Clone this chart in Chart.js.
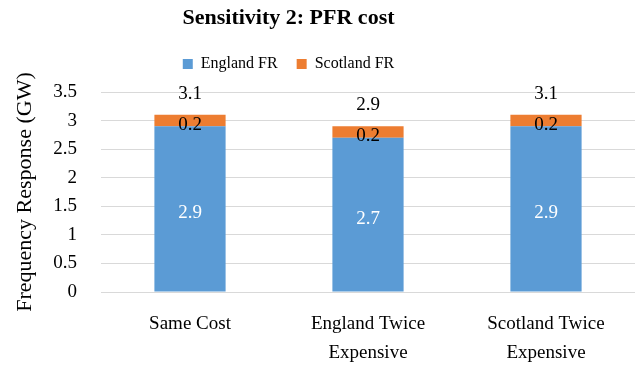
<!DOCTYPE html>
<html>
<head>
<meta charset="utf-8">
<script src="https://cdn.jsdelivr.net/npm/chart.js@4/dist/chart.umd.min.js"></script>
<style>
  html, body { margin: 0; padding: 0; background: #ffffff; }
  #wrap { width: 638px; height: 365px; }
</style>
</head>
<body>
<div id="wrap"><canvas id="chart" width="638" height="365"></canvas></div>
<script>
// Scenario names (multi-line where the axis label wraps)
const categories = [
  ['Same Cost'],
  ['England Twice', 'Expensive'],
  ['Scotland Twice', 'Expensive']
];
// Frequency response provided by each region, GW
const englandFR = [2.9, 2.7, 2.9];
const scotlandFR = [0.2, 0.2, 0.2];
// Stack totals shown above each bar
const totals = [3.1, 2.9, 3.1];

const SERIF = '"Liberation Serif", "Times New Roman", serif';

// Writes segment values inside the bars and the stack totals above them
const valueLabels = {
  id: 'valueLabels',
  afterDatasetsDraw(chart) {
    const ctx = chart.ctx;
    ctx.save();
    ctx.textAlign = 'center';
    ctx.textBaseline = 'middle';
    ctx.font = '19px ' + SERIF;
    chart.data.datasets.forEach((ds, di) => {
      const meta = chart.getDatasetMeta(di);
      meta.data.forEach((bar, i) => {
        const mid = (bar.y + bar.base) / 2;
        ctx.fillStyle = di === 0 ? '#ffffff' : '#000000';
        ctx.fillText(String(ds.data[i]), bar.x, mid + 4.5);
      });
    });
    const topMeta = chart.getDatasetMeta(chart.data.datasets.length - 1);
    const yScale = chart.scales.y;
    topMeta.data.forEach((bar, i) => {
      ctx.fillStyle = '#000000';
      ctx.fillText(String(totals[i]), bar.x, yScale.getPixelForValue(totals[i]) - 21);
    });
    ctx.restore();
  }
};

// Centres the heading and legend over the left part of the figure
const headingOffset = {
  id: 'headingOffset',
  afterLayout(chart) {
    const shift = 62;
    if (chart.titleBlock) chart.titleBlock.right -= shift;
    if (chart.legend) chart.legend.right -= shift;
  }
};

new Chart(document.getElementById('chart'), {
  type: 'bar',
  data: {
    labels: categories,
    datasets: [
      { label: 'England FR', data: englandFR, backgroundColor: '#5B9BD5' },
      { label: 'Scotland FR', data: scotlandFR, backgroundColor: '#ED7D31' }
    ]
  },
  options: {
    responsive: false,
    animation: false,
    layout: { padding: { top: 0, right: 3, left: 4, bottom: 0 } },
    datasets: { bar: { categoryPercentage: 1.0, barPercentage: 0.4 } },
    plugins: {
      title: {
        display: true,
        text: 'Sensitivity 2: PFR cost',
        color: '#000000',
        font: { family: SERIF, size: 22, weight: 'bold', lineHeight: 1.0 },
        padding: { top: 7, bottom: 8 }
      },
      legend: {
        position: 'top',
        labels: {
          color: '#000000',
          font: { family: SERIF, size: 16 },
          boxWidth: 10,
          boxHeight: 10,
          padding: 19
        }
      },
      // empty spacer between the legend and the plot
      subtitle: {
        display: true,
        text: '',
        weight: 500,
        font: { size: 10, lineHeight: 1.0 },
        padding: 0
      },
      tooltip: { enabled: false }
    },
    scales: {
      x: {
        stacked: true,
        grid: { display: false, drawTicks: false },
        border: { display: false },
        ticks: {
          color: '#000000',
          font: { family: SERIF, size: 19, lineHeight: 1.5 },
          padding: 18,
          maxRotation: 0
        },
        afterFit(scale) { scale.height = 73; }
      },
      y: {
        stacked: true,
        min: 0,
        max: 3.5,
        grid: { color: '#d9d9d9', lineWidth: 1, drawTicks: false },
        border: { display: false },
        ticks: {
          stepSize: 0.5,
          color: '#000000',
          font: { family: SERIF, size: 19 },
          padding: 24,
          callback: (v) => String(v)
        },
        title: {
          display: true,
          text: 'Frequency Response (GW)',
          color: '#000000',
          font: { family: SERIF, size: 22 },
          padding: { top: 8, bottom: 0 }
        },
        afterFit(scale) { scale.width = 97; }
      }
    }
  },
  plugins: [valueLabels, headingOffset]
});
</script>
</body>
</html>
